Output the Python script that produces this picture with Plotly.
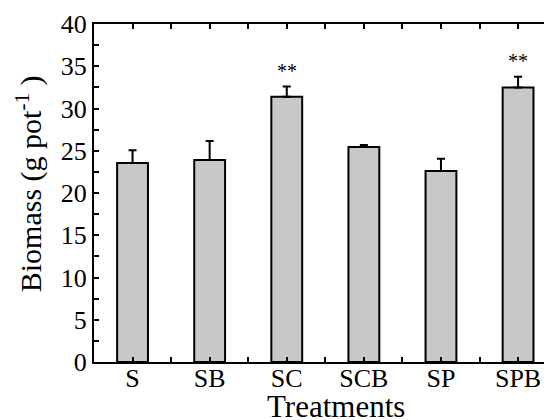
import plotly.graph_objects as go

categories = ["S", "SB", "SC", "SCB", "SP", "SPB"]
biomass = [23.55, 23.9, 31.4, 25.45, 22.6, 32.5]
errors = [1.5, 2.25, 1.2, 0.24, 1.45, 1.25]
significance = ["", "", "**", "", "", "**"]

x_idx = list(range(len(categories)))

fig = go.Figure()
fig.add_trace(go.Bar(
    x=x_idx, y=biomass, width=0.4,
    marker=dict(color="#c8c8c8", line=dict(color="black", width=2)),
    error_y=dict(type="data", array=errors, arrayminus=[0]*len(errors),
                 symmetric=False, color="black", thickness=2, width=4),
    showlegend=False,
))

for i, s in enumerate(significance):
    if s:
        fig.add_annotation(x=x_idx[i], y=biomass[i] + errors[i], text=s,
                           showarrow=False, yanchor="bottom", yshift=3,
                           font=dict(family="Liberation Serif", size=20, color="black"))

font = dict(family="Liberation Serif", color="black")

# axis titles as annotations for precise placement
fig.add_annotation(xref="paper", yref="paper", x=-0.1419, y=0.526,
                   text="Biomass (g pot<sup>-1</sup> )", textangle=-90,
                   showarrow=False, xanchor="center", yanchor="middle",
                   font=dict(size=30, **font))
fig.add_annotation(xref="paper", yref="paper", x=0.528, y=-0.131,
                   text="Treatments", showarrow=False,
                   xanchor="center", yanchor="middle",
                   font=dict(size=31, **font))

# the page adds an 8px body margin, so the figure is sized to compensate
fig.update_layout(
    width=544, height=412,
    margin=dict(l=86, r=0, t=16, b=58),
    paper_bgcolor="white", plot_bgcolor="white",
    font=dict(family="Liberation Serif", size=26, color="black"),
)
fig.update_xaxes(
    range=[-0.5, 5.44], automargin=False,
    tickvals=x_idx, ticktext=categories,
    ticks="inside", ticklen=5, tickwidth=1.5, tickcolor="black",
    minor=dict(dtick=0.5, tick0=0.5, ticks="inside", ticklen=5, tickwidth=1.5, tickcolor="black"),
    showline=True, linecolor="black", linewidth=2, mirror="allticks",
    showgrid=False, zeroline=False,
    tickfont=dict(size=26, **font),
    ticklabelstandoff=-8,
)
fig.update_yaxes(
    range=[0, 40], dtick=5, automargin=False,
    ticks="inside", ticklen=5, tickwidth=1.5, tickcolor="black",
    minor=dict(dtick=2.5, ticks="inside", ticklen=5, tickwidth=1.5, tickcolor="black"),
    showline=True, linecolor="black", linewidth=2, mirror=False,
    showgrid=False, zeroline=False,
    tickfont=dict(size=26, **font),
)

fig.write_html("out.html")
